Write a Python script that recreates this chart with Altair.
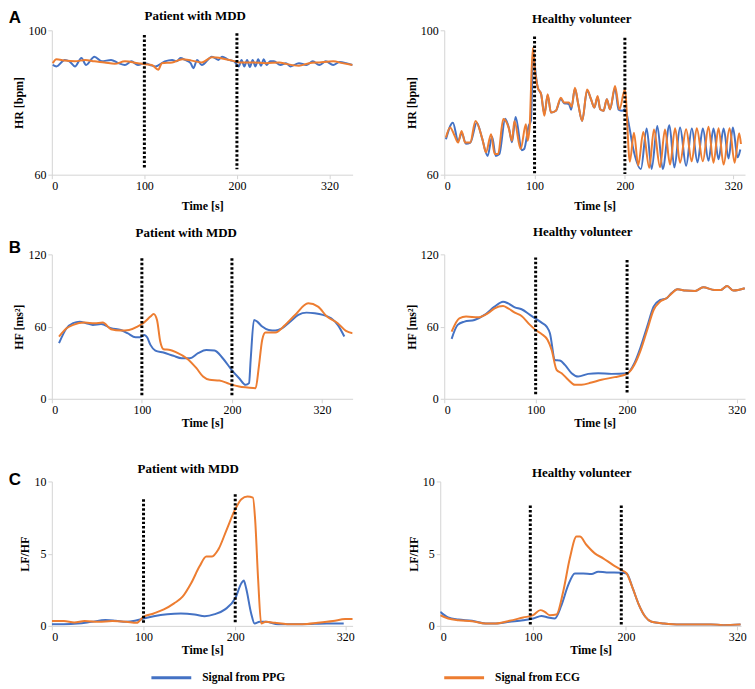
import altair as alt
import pandas as pd

# ---------------- data ----------------
SERIES = ["Signal from PPG", "Signal from ECG"]
COLORS = ["#4472C4", "#ED7D31"]

# Row A: heart rate [bpm]
A_MDD_PPG = [(1, 90.4), (5, 90.0), (14, 91.8), (19, 91.4), (25, 90.0), (32, 92.3), (37, 90.4), (46, 92.7),
             (54, 91.4), (64, 91.8), (72, 90.9), (79, 90.4), (86, 91.4), (93, 90.4), (101, 90.9), (106, 90.4),
             (112, 90.0), (122, 91.4), (130, 91.8), (135, 91.4), (139, 92.3), (144, 91.8), (150, 90.9),
             (153, 89.5), (157, 91.8), (162, 90.4), (173, 92.7), (180, 91.8), (184, 92.7), (191, 91.8),
             (197, 91.4), (202, 90.0), (205, 91.8), (208, 90.0), (211, 91.8), (214, 89.8), (217, 91.8),
             (220, 90.0), (223, 92.0), (226, 90.2), (229, 92.0), (232, 90.4), (236, 91.4), (240, 91.4),
             (247, 90.4), (253, 90.9), (258, 90.0), (267, 90.9), (275, 90.4), (282, 91.4), (289, 90.4),
             (296, 91.4), (304, 90.4), (311, 91.2), (318, 90.9), (325, 90.4)]
A_MDD_ECG = [(1, 90.9), (5, 92.0), (14, 91.6), (25, 91.4), (36, 91.8), (46, 91.4), (57, 91.1), (68, 90.7),
             (79, 91.4), (93, 90.9), (101, 90.6), (108, 90.4), (115, 89.1), (119, 90.9), (130, 91.1),
             (141, 92.0), (151, 91.6), (162, 91.1), (173, 92.5), (184, 92.2), (195, 91.6), (202, 91.1),
             (217, 91.1), (231, 90.9), (246, 91.1), (253, 90.7), (267, 90.2), (278, 90.9), (289, 91.1),
             (304, 91.4), (314, 90.9), (325, 90.4)]
A_HV_PPG = [(1.9, 69.8), (9.6, 74.4), (15.4, 69.4), (19.5, 71.5), (24, 68.6), (29, 68.9), (36, 74.4),
            (42, 70.0), (48, 65.2), (53, 70.5), (57, 65.2), (61, 65.7), (67.5, 75.5), (72, 72.5), (75, 69.0),
            (79, 76.0), (86, 66.8), (88.5, 67.1), (93.5, 73.5), (96, 75.0), (98.5, 94.2), (101, 88.5),
            (103.6, 84.1), (107.3, 82.3), (110.9, 76.8), (114.5, 82.0), (118.2, 77.2), (123.6, 77.7),
            (129.1, 81.0), (132.7, 79.8), (138, 79.6), (140.5, 78.0), (144.7, 83.8), (148.4, 79.5),
            (152.7, 74.9), (158.2, 83.3), (162.5, 80.9), (166.2, 78.6), (169.8, 81.5), (172.7, 78.1),
            (176.4, 77.7), (180, 80.9), (183.6, 78.1), (189.1, 84.0), (193, 78.0), (197, 77.7), (200, 78.1),
            (205, 73.1), (209, 67.5), (217.8, 61.6), (224.1, 72.8), (229.6, 61.6), (235.9, 73.5),
            (241.9, 61.6), (249.3, 73.7), (254.8, 62.0), (261.1, 73.1), (267.8, 62.5), (274.1, 72.8),
            (280.4, 63.4), (286.3, 72.8), (292.6, 63.9), (298.1, 72.8), (303.7, 64.3), (309.3, 72.8),
            (314.8, 64.5), (319.6, 73.1), (324.8, 64.8), (327.8, 67.0)]
A_HV_ECG = [(1.9, 70.3), (6.5, 73.1), (11.5, 70.8), (15.4, 68.9), (19.2, 72.1), (23.1, 68.9), (28.8, 68.9),
            (34.6, 74.9), (42.3, 69.8), (46.2, 66.2), (51.9, 71.2), (55.8, 65.7), (59.6, 65.7), (65.4, 75.4),
            (71.2, 73.1), (75, 69.4), (77.7, 74.9), (84.6, 67.1), (90.4, 74.0), (92.3, 69.4), (94.5, 73.0),
            (98, 95.1), (100.5, 88.7), (103.6, 84.1), (107.3, 82.3), (110.9, 76.3), (114.5, 82.3),
            (118.2, 77.2), (123.6, 77.7), (129.1, 81.3), (132.7, 80.0), (138.2, 80.0), (141.1, 78.8),
            (144.7, 84.1), (148.4, 79.5), (152.7, 74.9), (158.2, 83.6), (162.5, 80.9), (166.2, 78.6),
            (169.8, 81.8), (172.7, 78.1), (176.4, 77.7), (180, 80.9), (183.6, 78.1), (189.1, 84.6),
            (194, 78.1), (200, 83.6), (205.5, 63.6), (210, 71.6), (214.8, 62.6), (220.4, 71.8), (227, 61.9),
            (232.2, 72.5), (238.9, 62.1), (244.4, 72.5), (250, 62.8), (255.6, 72.9), (261.1, 63.3),
            (267.8, 72.6), (274, 63.7), (279.6, 72.9), (286.3, 63.7), (292.6, 73.3), (298.1, 63.3),
            (303.7, 72.9), (309.3, 62.8), (315.9, 72.9), (321.5, 63.3), (326.5, 71.5), (328.5, 68.5)]

# Row B: HF power [ms^2]
B_MDD_PPG = [(8, 46.2), (16.4, 58.6), (23.7, 62.8), (31, 64.1), (38.3, 62.8), (45.6, 61.4), (54.7, 62.2),
             (65.7, 58.6), (76.6, 57.2), (84, 54.5), (93, 51.1), (98.5, 51.1), (102.9, 53.1), (105.8, 51.1),
             (109.5, 44.8), (115, 40.1), (124, 38.4), (135, 35.7), (144.2, 33.7), (153.3, 33.7), (162.4, 37.9),
             (171.5, 40.6), (180.7, 40.1), (189.8, 33.7), (199.6, 24.1), (208, 17.1), (215.3, 11.6),
             (219, 13.0), (220.8, 32.3), (224.5, 65.5), (228.1, 64.1), (233.6, 60.0), (240.9, 57.2),
             (248.2, 56.7), (255.5, 58.6), (264.6, 64.1), (273.7, 69.7), (282.8, 71.6), (292, 71.1),
             (301, 69.7), (310.2, 66.9), (317.5, 61.4), (324.8, 51.7)]
B_MDD_ECG = [(8, 51.7), (16.4, 58.6), (23.7, 61.4), (36.5, 63.3), (47.4, 62.8), (56.6, 63.3), (65.7, 57.8),
             (76.6, 56.7), (85.8, 57.2), (95, 60.0), (102.2, 63.3), (109.5, 68.3), (113.1, 70.5),
             (116.8, 65.5), (120.4, 47.6), (124.1, 41.2), (131.4, 40.6), (138.7, 38.4), (149.6, 33.7),
             (160.6, 25.4), (167.9, 18.5), (175.2, 15.8), (186.1, 15.2), (197.1, 12.4), (208, 10.2),
             (217.2, 9.4), (226.3, 8.8), (229.9, 26.8), (233.6, 48.9), (237.2, 55.0), (248.2, 55.0),
             (259.1, 61.4), (270.1, 69.7), (284.7, 79.3), (295.6, 76.6), (305.5, 68.3), (317.5, 62.8),
             (326.6, 56.4), (334, 54.5)]
B_HV_PPG = [(8.1, 49.8), (14.7, 61.4), (22.1, 64.1), (33.1, 65.5), (44.1, 69.7), (55.1, 76.6), (64.3, 80.7),
            (69.9, 79.3), (77.2, 76.0), (84.6, 74.4), (93.8, 69.7), (100, 66.6), (106.5, 63.3), (112, 60.0),
            (115.6, 54.5), (121.1, 32.3), (126.5, 31.8), (132, 28.2), (139.3, 21.3), (146.5, 18.5),
            (157.5, 20.7), (168.4, 21.3), (182.9, 20.7), (200, 21.3), (208, 29.6), (215, 43.4), (222, 60.0),
            (229, 76.6), (236, 82.1), (243, 83.5), (248.3, 87.6), (255.2, 91.0), (264, 89.9), (274.5, 89.6),
            (283.2, 92.6), (295.5, 90.4), (302.4, 90.4), (309.4, 93.7), (316.4, 89.9), (328.7, 91.8)]
B_HV_ECG = [(8.1, 55.8), (16.5, 66.9), (23.9, 68.3), (36.8, 67.7), (47.8, 71.1), (55.1, 75.2), (64.3, 77.1),
            (69.9, 75.2), (77.2, 71.6), (84.6, 68.8), (93.8, 61.4), (100, 57.2), (106.5, 53.9), (113.1, 48.9),
            (117.5, 40.6), (122.9, 24.1), (128.4, 21.3), (135.6, 15.8), (142.9, 11.6), (150.2, 11.6),
            (161.1, 13.5), (172, 15.8), (186.5, 18.0), (200, 20.7), (208, 28.2), (215, 40.6), (222, 57.2),
            (229, 73.8), (236, 80.7), (243, 83.5), (248.3, 87.1), (255.2, 91.0), (264, 89.9), (274.5, 89.6),
            (283.2, 92.6), (295.5, 90.4), (302.4, 90.4), (309.4, 93.7), (316.4, 89.9), (328.7, 91.8)]

# Row C: LF/HF ratio
C_MDD_PPG = [(0, 0.12), (13.2, 0.12), (28.3, 0.16), (43.4, 0.28), (58.5, 0.40), (69.8, 0.35), (81.1, 0.28),
             (90.6, 0.35), (100, 0.51), (111.1, 0.67), (125.9, 0.81), (140.7, 0.86), (155.6, 0.79),
             (166.7, 0.67), (177.8, 0.81), (188.9, 1.14), (200, 1.91), (206.7, 2.95), (209.3, 3.14),
             (211.9, 2.60), (217.4, 0.86), (221.1, 0.16), (226.7, 0.28), (233.3, 0.28), (246.7, 0.12),
             (273.3, 0.12), (300, 0.16), (318.3, 0.16)]
C_MDD_ECG = [(0, 0.33), (13.2, 0.33), (24.5, 0.23), (35.8, 0.33), (50.9, 0.28), (66, 0.33), (81.1, 0.28),
             (92.5, 0.21), (100, 0.63), (111.1, 0.86), (122.2, 1.14), (133.3, 1.56), (142.6, 2.02),
             (151.9, 2.95), (161.1, 4.12), (168.5, 4.81), (174.8, 4.81), (181.5, 5.28), (190.7, 6.67),
             (200, 8.07), (206.7, 8.77), (213.3, 8.95), (219.3, 8.88), (221.7, 7.37), (225, 3.19),
             (228.3, 0.16), (233.3, 0.28), (243.3, 0.21), (256.7, 0.12), (273.3, 0.12), (290, 0.21),
             (306.7, 0.33), (320, 0.47), (328.3, 0.47)]
C_HV_PPG = [(0, 0.97), (8.5, 0.58), (19.5, 0.44), (34.2, 0.35), (48.9, 0.16), (59.9, 0.16), (74.6, 0.28),
            (89.3, 0.39), (100, 0.51), (109, 0.69), (116.2, 0.58), (123.4, 0.51), (130.6, 1.44), (137.8, 2.82),
            (145, 3.63), (154, 3.63), (163, 3.59), (170.1, 3.75), (179.1, 3.70), (195.3, 3.68), (200.7, 3.63),
            (207.4, 2.59), (214.1, 1.44), (220.9, 0.63), (227.6, 0.28), (241.1, 0.16), (257.9, 0.09),
            (274.7, 0.09), (291.6, 0.09), (305, 0.05), (323.5, 0.09)]
C_HV_ECG = [(0, 0.74), (8.5, 0.51), (19.5, 0.39), (34.2, 0.32), (48.9, 0.16), (59.9, 0.16), (74.6, 0.35),
            (89.3, 0.58), (100, 0.74), (107.9, 1.09), (112.6, 0.97), (118, 0.74), (125.2, 0.79), (132.4, 2.36),
            (139.6, 4.68), (146.8, 6.18), (150.4, 6.18), (157.6, 5.60), (166.5, 5.02), (175.5, 4.68),
            (186.3, 4.21), (195.3, 3.87), (200.7, 3.63), (207.4, 2.59), (214.1, 1.44), (220.9, 0.63),
            (227.6, 0.28), (241.1, 0.16), (257.9, 0.09), (274.7, 0.09), (291.6, 0.09), (305, 0.05),
            (323.5, 0.09)]

# dotted phase markers: (time, top value, bottom value)
RULES_A_MDD = [(100, 98.7, 61.5), (200, 99.2, 61.5)]
RULES_A_HV = [(100, 98.3, 60.0), (200, 97.9, 60.2)]
RULES_B_MDD = [(100, 116.7, 1.9), (200, 116.7, 1.9)]
RULES_B_HV = [(100, 117.5, 3.3), (200, 115.3, 4.7)]
RULES_C_MDD = [(100, 8.77, 0.16), (200, 9.12, 0.16)]
RULES_C_HV = [(97, 8.33, 0.05), (195, 8.33, 0.05)]

SERIF = "Liberation Serif"
W, H = 302, 145
COLOR_SCALE = alt.Scale(domain=SERIES, range=COLORS)


def series_df(ppg, ecg):
    rows = [{"t": t, "v": v, "s": SERIES[0], "o": 0} for t, v in ppg]
    rows += [{"t": t, "v": v, "s": SERIES[1], "o": 1} for t, v in ecg]
    return pd.DataFrame(rows)


def panel(title, title_xy, ytitle, ydom, yticks, xdom, xticks, relabel300,
          ppg, ecg, rules, x_title_pad, letter=None, letter_xy=(0, 0)):
    df = series_df(ppg, ecg)
    label_expr = "datum.value == 300 ? '320' : datum.label" if relabel300 else "datum.label"
    x = alt.X("t:Q", scale=alt.Scale(domain=xdom, nice=False, zero=False),
              axis=alt.Axis(values=xticks, title="Time [s]", labelExpr=label_expr,
                            titlePadding=x_title_pad))
    y = alt.Y("v:Q", scale=alt.Scale(domain=ydom, nice=False, zero=False),
              axis=alt.Axis(values=yticks, title=ytitle))
    lines = alt.Chart(df).mark_line(strokeWidth=2, interpolate="monotone", clip=True).encode(
        x=x, y=y,
        color=alt.Color("s:N", scale=COLOR_SCALE, legend=None),
        order=alt.Order("o:Q"),
    )
    rdf = pd.DataFrame(rules, columns=["t", "top", "bottom"])
    rule = alt.Chart(rdf).mark_rule(color="black", strokeWidth=3, strokeDash=[2.5, 2]).encode(
        x="t:Q", y="top:Q", y2="bottom:Q")
    tdf = pd.DataFrame({"title": [title]})
    ttl = alt.Chart(tdf).mark_text(font=SERIF, fontWeight="bold", fontSize=13, align="center",
                                   baseline="middle", color="black").encode(
        text="title:N", x=alt.value(title_xy[0]), y=alt.value(title_xy[1]))
    layers = [lines, rule, ttl]
    if letter:
        ldf = pd.DataFrame({"letter": [letter]})
        layers.append(alt.Chart(ldf).mark_text(font="Liberation Sans", fontWeight="bold", fontSize=17,
                                               align="center", baseline="middle", color="black").encode(
            text="letter:N", x=alt.value(letter_xy[0]), y=alt.value(letter_xy[1])))
    return alt.layer(*layers).properties(width=W, height=H)


a_l = panel("Patient with MDD", (144, -14), "HR [bpm]", [60, 100], [60, 100], [0, 325], [0, 100, 200, 300], True,
            A_MDD_PPG, A_MDD_ECG, RULES_A_MDD, 9, "A", (-37, -12))
a_r = panel("Healthy volunteer", (138, -11), "HR [bpm]", [60, 100], [60, 100], [0, 333], [0, 100, 200, 320], False,
            A_HV_PPG, A_HV_ECG, RULES_A_HV, 9)
b_l = panel("Patient with MDD", (135, -21), "HF [ms²]", [0, 120], [0, 60, 120], [0, 334], [0, 100, 200, 300], True,
            B_MDD_PPG, B_MDD_ECG, RULES_B_MDD, 2, "B", (-37, -6))
b_r = panel("Healthy volunteer", (139, -22), "HF [ms²]", [0, 120], [0, 60, 120], [0, 329], [0, 100, 200, 320], False,
            B_HV_PPG, B_HV_ECG, RULES_B_HV, 2)
c_l = panel("Patient with MDD", (137, -12), "LF/HF", [0, 10], [0, 5, 10], [0, 328], [0, 100, 200, 320], False,
            C_MDD_PPG, C_MDD_ECG, RULES_C_MDD, 2, "C", (-37, -1))
c_r = panel("Healthy volunteer", (142, -8), "LF/HF", [0, 10], [0, 5, 10], [0, 324], [0, 100, 200, 320], False,
            C_HV_PPG, C_HV_ECG, RULES_C_HV, 2)

row_a = alt.hconcat(a_l, a_r, spacing=53)
row_b = alt.hconcat(b_l, b_r, spacing=53)
row_c = alt.hconcat(c_l, c_r, spacing=53)

# legend row: a line sample and a label per series, placed by a point scale
leg_df = pd.DataFrame({"s": SERIES})
leg_x = alt.X("s:N", scale=alt.Scale(domain=SERIES, range=[120, 414], padding=0), axis=None)
leg_sym = alt.Chart(leg_df).mark_point(shape="stroke", size=1600, strokeWidth=3, filled=False, opacity=1).encode(
    x=leg_x, y=alt.value(7), color=alt.Color("s:N", scale=COLOR_SCALE, legend=None))
leg_txt = alt.Chart(leg_df).mark_text(font=SERIF, fontWeight="bold", fontSize=11.5, align="left",
                                      baseline="middle", dx=31, color="black").encode(
    x=leg_x, y=alt.value(7), text="s:N")
legend_row = alt.layer(leg_sym, leg_txt).properties(width=560, height=14)

chart = alt.vconcat(
    alt.vconcat(alt.vconcat(row_a, row_b, spacing=15), row_c, spacing=35),
    legend_row, spacing=15
).resolve_scale(color="shared").properties(
    padding={"left": 0, "top": 0, "right": 0, "bottom": 0}
).configure_view(stroke=None).configure_axis(
    grid=False, labelFont=SERIF, labelFontSize=12, labelColor="black",
    titleFont=SERIF, titleFontSize=12, titleFontWeight="bold", titleColor="black",
    domainColor="#d4d4d4", tickColor="#d4d4d4", tickSize=4, titlePadding=2
)

chart.save("out.html", embed_options={"renderer": "svg", "actions": False})
